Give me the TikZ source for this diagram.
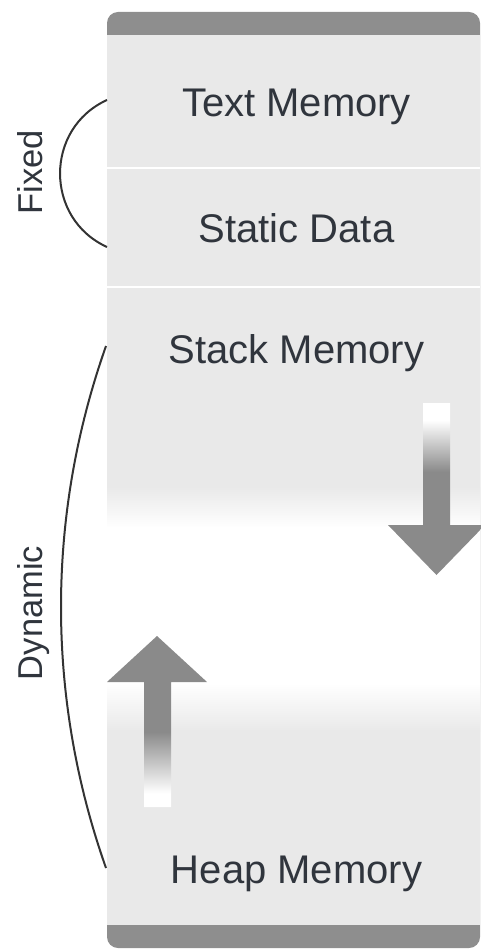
\documentclass[tikz,border=0pt]{standalone}
\usepackage{fontspec}
\setmainfont{Liberation Sans}
\definecolor{barcol}{HTML}{8E8E8E}
\definecolor{boxcol}{HTML}{E9E9E9}
\definecolor{arrgray}{HTML}{8A8A8A}
\definecolor{txtcol}{HTML}{30353D}
\definecolor{linecol}{HTML}{333333}
\pgfdeclareverticalshading{downarr}{100bp}{color(0bp)=(arrgray); color(55bp)=(arrgray); color(70bp)=(white); color(100bp)=(white)}
\pgfdeclareverticalshading{uparr}{100bp}{color(0bp)=(white); color(29bp)=(white); color(47bp)=(arrgray); color(100bp)=(arrgray)}
\tikzset{
  seclabel/.style={anchor=base, text=txtcol, inner sep=0pt, font=\fontsize{40}{48}\selectfont},
  sidelabel/.style={anchor=base, rotate=90, text=txtcol, inner sep=0pt, font=\fontsize{34.5}{40}\selectfont},
  brace/.style={draw=linecol, line width=2pt},
  divider/.style={draw=white, line width=2.5pt}
}
\begin{document}
\begin{tikzpicture}[x=1pt,y=-1pt]
\useasboundingbox (0,0) rectangle (481,949);
% outer box with grey bars
\fill[barcol, rounded corners=11] (107,12) rectangle (480,948);
% sections
\fill[boxcol] (107,35) rectangle (480,488);
\shade[top color=boxcol, bottom color=white] (107,487) rectangle (480,528);
\fill[white] (107,527) rectangle (480,684);
\shade[top color=white, bottom color=boxcol] (107,683) rectangle (480,731);
\fill[boxcol] (107,730) rectangle (480,925);
% dividers
\draw[divider] (107,168) -- (480,168);
\draw[divider] (107,287) -- (480,287);
% labels
\node[seclabel] (text) at (296.5,117) {Text Memory};
\node[seclabel] (static) at (296.5,243) {Static Data};
\node[seclabel] (stack) at (296.5,363) {Stack Memory};
\node[seclabel] (heap) at (296.5,883) {Heap Memory};
% growth arrows
\shade[shading=downarr] (423,403) -- (450,403) -- (450,525) -- (485,525) -- (436.5,575) -- (388,525) -- (423,525) -- cycle;
\shade[shading=uparr] (157,636) -- (207,682) -- (171,682) -- (171,807) -- (144,807) -- (144,682) -- (107,682) -- cycle;
% brackets
\coordinate (f1) at (107,100);
\coordinate (f2) at (107,247);
\draw[brace] (f1) .. controls (44.4,128.5) and (44.4,218.5) .. (f2);
\coordinate (d1) at (106,346);
\coordinate (d2) at (106,868);
\draw[brace] (d1) .. controls (46,516) and (46,698) .. (d2);
\node[sidelabel] (fixed) at (42,172) {Fixed};
\node[sidelabel] (dynamic) at (42,613) {Dynamic};
\end{tikzpicture}
\end{document}
